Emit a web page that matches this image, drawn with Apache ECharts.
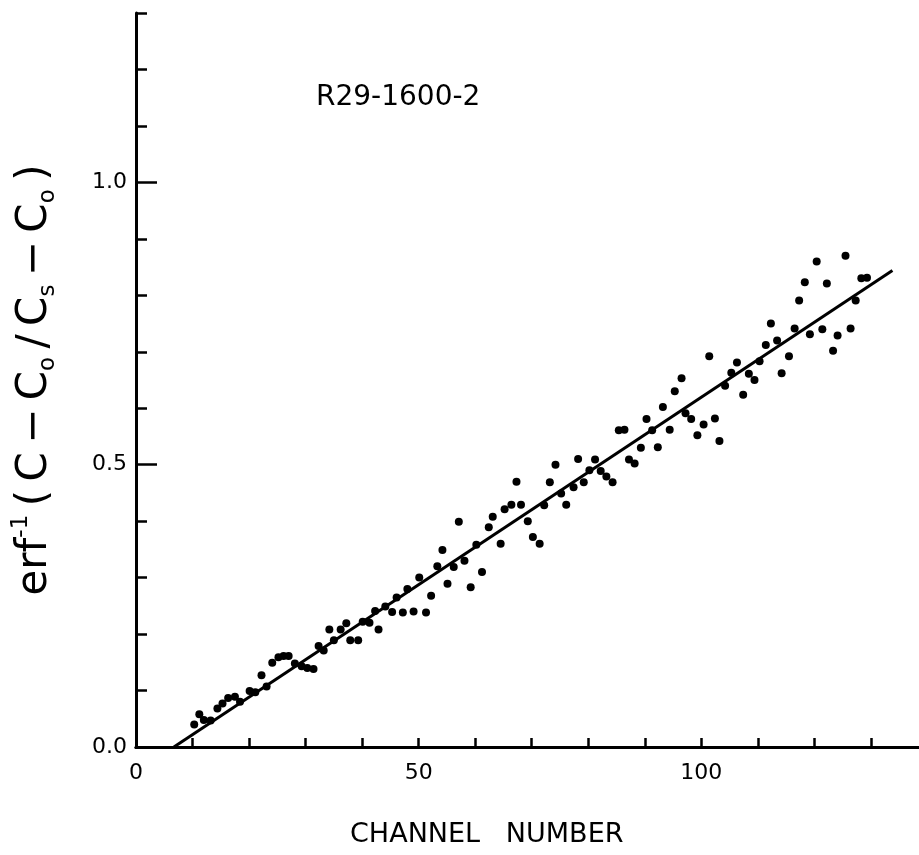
<!DOCTYPE html>
<html><head><meta charset="utf-8">
<script src="https://cdn.jsdelivr.net/npm/echarts@6/dist/echarts.min.js"></script>
<style>html,body{margin:0;padding:0;background:#fff}#c{width:919px;height:855px}</style>
</head><body><div id="c"></div>
<script>
// ---- data ----
const channels = [10.3,11.2,12.0,13.2,14.4,15.3,16.3,17.5,18.4,20.1,21.1,22.2,23.1,24.1,25.2,26.1,27.0,28.1,29.3,30.3,31.4,32.3,33.2,34.2,35.0,36.2,37.2,37.9,39.3,40.1,41.3,42.3,42.9,44.1,45.3,46.1,47.2,48.0,49.1,50.1,51.3,52.2,53.3,54.2,55.1,56.2,57.1,58.1,59.2,60.2,61.2,62.4,63.1,64.5,65.2,66.4,67.3,68.1,69.3,70.2,71.4,72.2,73.2,74.2,75.2,76.1,77.4,78.2,79.2,80.2,81.2,82.2,83.2,84.3,85.4,86.4,87.2,88.2,89.3,90.3,91.3,92.3,93.2,94.4,95.3,96.5,97.2,98.2,99.3,100.4,101.4,102.4,103.2,104.2,105.3,106.3,107.4,108.4,109.4,110.3,111.4,112.3,113.4,114.2,115.5,116.5,117.3,118.3,119.2,120.4,121.4,122.2,123.3,124.1,125.5,126.4,127.3,128.3,129.3];
const values = [0.040,0.058,0.048,0.047,0.068,0.077,0.087,0.089,0.080,0.099,0.097,0.127,0.107,0.149,0.159,0.161,0.161,0.148,0.143,0.140,0.138,0.179,0.171,0.208,0.189,0.208,0.219,0.189,0.189,0.222,0.220,0.241,0.208,0.249,0.239,0.265,0.238,0.280,0.240,0.300,0.238,0.268,0.320,0.349,0.289,0.319,0.399,0.330,0.283,0.358,0.310,0.389,0.408,0.360,0.421,0.429,0.470,0.429,0.400,0.372,0.360,0.428,0.469,0.500,0.449,0.429,0.460,0.510,0.469,0.490,0.509,0.489,0.479,0.469,0.561,0.562,0.509,0.502,0.530,0.581,0.561,0.531,0.602,0.562,0.630,0.653,0.591,0.581,0.552,0.571,0.692,0.582,0.542,0.640,0.663,0.681,0.624,0.661,0.650,0.683,0.712,0.750,0.720,0.662,0.692,0.741,0.791,0.823,0.731,0.860,0.740,0.821,0.702,0.729,0.870,0.741,0.791,0.830,0.831];
const fitChannels = [6.7, 133.8];
const fitValues = [0, 0.844];
const xLabelValues = [0, 50, 100];
const yLabelValues = [0, 0.5, 1.0];
const sampleLabel = 'R29-1600-2';
const xTitle = 'CHANNEL   NUMBER';

const FONT = 'DejaVu Sans';
const T = '\u2009';
const chart = echarts.init(document.getElementById('c'), null, {renderer: 'canvas'});
const lineStyle = {color: '#000', width: 3};
chart.setOption({
  animation: false,
  backgroundColor: '#fff',
  grid: {left: 136, right: 0, top: 13, bottom: 108},
  xAxis: [{
    type: 'value', position: 'bottom', min: 0, max: 138.5, interval: 10,
    axisLine: {lineStyle: lineStyle},
    axisTick: {inside: true, length: 9, lineStyle: {color: '#000', width: 2.5}},
    axisLabel: {color: '#000', fontSize: 22, fontFamily: FONT, margin: 15, showMaxLabel: false,
      formatter: v => xLabelValues.includes(v) ? String(v) : ''},
    splitLine: {show: false}
  }, {
    type: 'value', position: 'top', min: 0, max: 138.5,
    axisLine: {lineStyle: lineStyle}, axisTick: {show: false}, axisLabel: {show: false}, splitLine: {show: false}
  }],
  yAxis: [{
    type: 'value', position: 'left', min: 0, max: 1.3, interval: 0.1,
    axisLine: {lineStyle: lineStyle},
    axisTick: {inside: true, length: 11, lineStyle: {color: '#000', width: 2.5}},
    axisLabel: {show: false}, splitLine: {show: false},
    name: '{m|erf}{p|-1}{m|' + T + '(' + T + 'C' + T + '−' + T + 'C}{q|o}{m|' + T + '/' + T + 'C}{q|s}{m|' + T + '−' + T + 'C}{q|o}{m|' + T + ')}',
    nameLocation: 'middle', nameGap: 76,
    nameTextStyle: {color: '#000', fontFamily: FONT, fontSize: 42,
      rich: {
        m: {fontSize: 42, fontFamily: FONT, color: '#000', lineHeight: 50},
        p: {fontSize: 23, fontFamily: FONT, color: '#000', lineHeight: 25, verticalAlign: 'top'},
        q: {fontSize: 23, fontFamily: FONT, color: '#000', lineHeight: 25, verticalAlign: 'bottom'}
      }}
  }, {
    type: 'value', position: 'left', min: 0, max: 1.3, interval: 0.5,
    axisLine: {show: false},
    axisTick: {inside: true, length: 21, lineStyle: {color: '#000', width: 2.5}},
    axisLabel: {color: '#000', fontSize: 22, fontFamily: FONT, margin: 9, showMaxLabel: false,
      formatter: v => yLabelValues.some(t => Math.abs(t - v) < 1e-6) ? v.toFixed(1) : ''},
    splitLine: {show: false}
  }],
  graphic: [
    {type: 'text', left: 316, top: 84, style: {text: sampleLabel, fontSize: 28, fontFamily: FONT, fill: '#000'}},
    {type: 'text', left: 350, top: 821, style: {text: xTitle, fontSize: 27, fontFamily: FONT, fill: '#000'}}
  ],
  series: [{
    type: 'scatter', xAxisIndex: 0, yAxisIndex: 0, symbolSize: 8,
    itemStyle: {color: '#000', opacity: 1},
    data: channels.map((c, i) => [c, values[i]])
  }, {
    type: 'line', xAxisIndex: 0, yAxisIndex: 0, symbol: 'none',
    lineStyle: {color: '#000', width: 3},
    data: fitChannels.map((c, i) => [c, fitValues[i]])
  }]
});
</script></body></html>
